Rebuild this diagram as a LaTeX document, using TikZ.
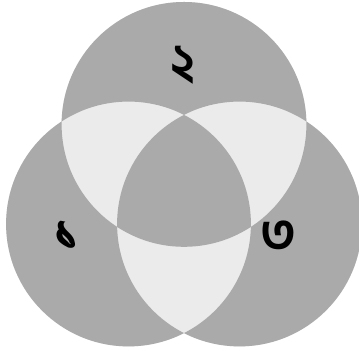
\documentclass[tikz,border=0pt]{standalone}
\usepackage{fontspec}
\newfontfamily\bnfont[Script=Bengali]{Hind Siliguri}
\definecolor{setgray}{RGB}{170,170,170}
\definecolor{pairgray}{RGB}{235,235,235}
\begin{document}
\begin{tikzpicture}[
    x=1pt, y=1pt,
    digit/.style={font=\bnfont\bfseries\fontsize{52}{52}\selectfont, inner sep=0pt},
  ]
  \useasboundingbox (0,0) rectangle (359,352);
  \fill[white] (0,0) rectangle (359,352);
  \coordinate (c1) at (128.5,128);
  \coordinate (c2) at (184,227.6);
  \coordinate (c3) at (239.5,128);
  % union first, then odd regions darker
  \fill[pairgray] (c1) circle (122.4) (c2) circle (122.4) (c3) circle (122.4);
  \fill[setgray, even odd rule] (c1) circle (122.4) (c2) circle (122.4) (c3) circle (122.4);
  \node[digit] (one) at (67,116) {১};
  \node[digit] (two) at (183,287) {২};
  \node[digit] (three) at (278,116) {৩};
\end{tikzpicture}
\end{document}
